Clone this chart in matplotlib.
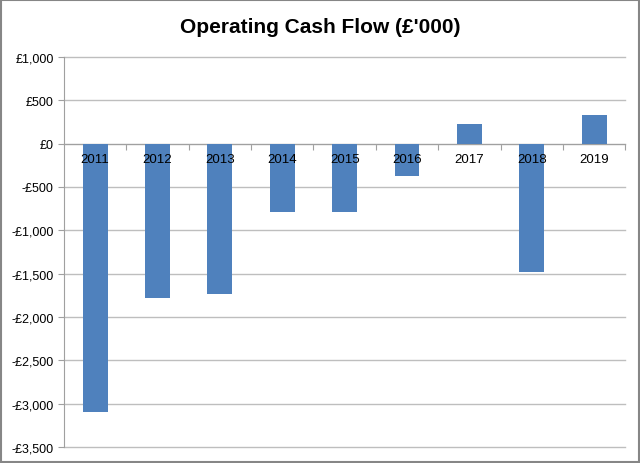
import matplotlib
matplotlib.use("Agg")
import matplotlib.pyplot as plt
from matplotlib.ticker import FuncFormatter

# data
years = ["2011", "2012", "2013", "2014", "2015", "2016", "2017", "2018", "2019"]
cash_flow = [-3100, -1780, -1730, -790, -790, -370, 225, -1480, 335]
y_ticks = list(range(-3500, 1001, 500))

plt.rcParams['font.family'] = ['Liberation Sans', 'DejaVu Sans']

fig = plt.figure(figsize=(6.4, 4.64), dpi=100)
ax = fig.add_axes([0.1, 0.0345, 0.877, 0.8405])

x = list(range(len(years)))
ax.bar(x, cash_flow, width=0.4, color="#4F81BD", zorder=3)

ax.set_xlim(-0.5, len(years) - 0.5)
ax.set_ylim(-3500, 1000)
ax.set_yticks(y_ticks)


def money(v, pos):
    v = int(v)
    if v < 0:
        return "-£{:,}".format(-v)
    return "£{:,}".format(v)


ax.yaxis.set_major_formatter(FuncFormatter(money))
ax.tick_params(axis="y", labelsize=9, colors="#A0A0A0", length=4, width=0.8)
ax.tick_params(axis="y", labelcolor="#000000")
ax.yaxis.grid(True, color="#BEBEBE", linewidth=1, zorder=0)
for gl in ax.get_ygridlines():
    gl.set_clip_on(False)

# x axis at zero
ax.spines["bottom"].set_position(("data", 0))
ax.spines["bottom"].set_color("#A0A0A0")
ax.spines["left"].set_color("#A0A0A0")
ax.spines["top"].set_visible(False)
ax.spines["right"].set_visible(False)
ax.set_xticks([i + 0.5 for i in x], minor=False)
ax.set_xticklabels([])
ax.tick_params(axis="x", length=4, color="#A0A0A0", direction="out")
for i, yr in enumerate(years):
    ax.annotate(yr, (i, 0), xytext=(0, -7), textcoords="offset points",
                ha="center", va="top", fontsize=9.5, zorder=4)

fig.text(0.5, 0.94, "Operating Cash Flow (£'000)", ha="center", va="center",
         fontsize=15, fontweight="bold")

# outer frame
fig.patches.append(plt.Rectangle((0.002, 0.002), 0.996, 0.996, transform=fig.transFigure,
                                 fill=False, edgecolor="#868686", linewidth=1.5))

fig.savefig("out.png", dpi=100)
